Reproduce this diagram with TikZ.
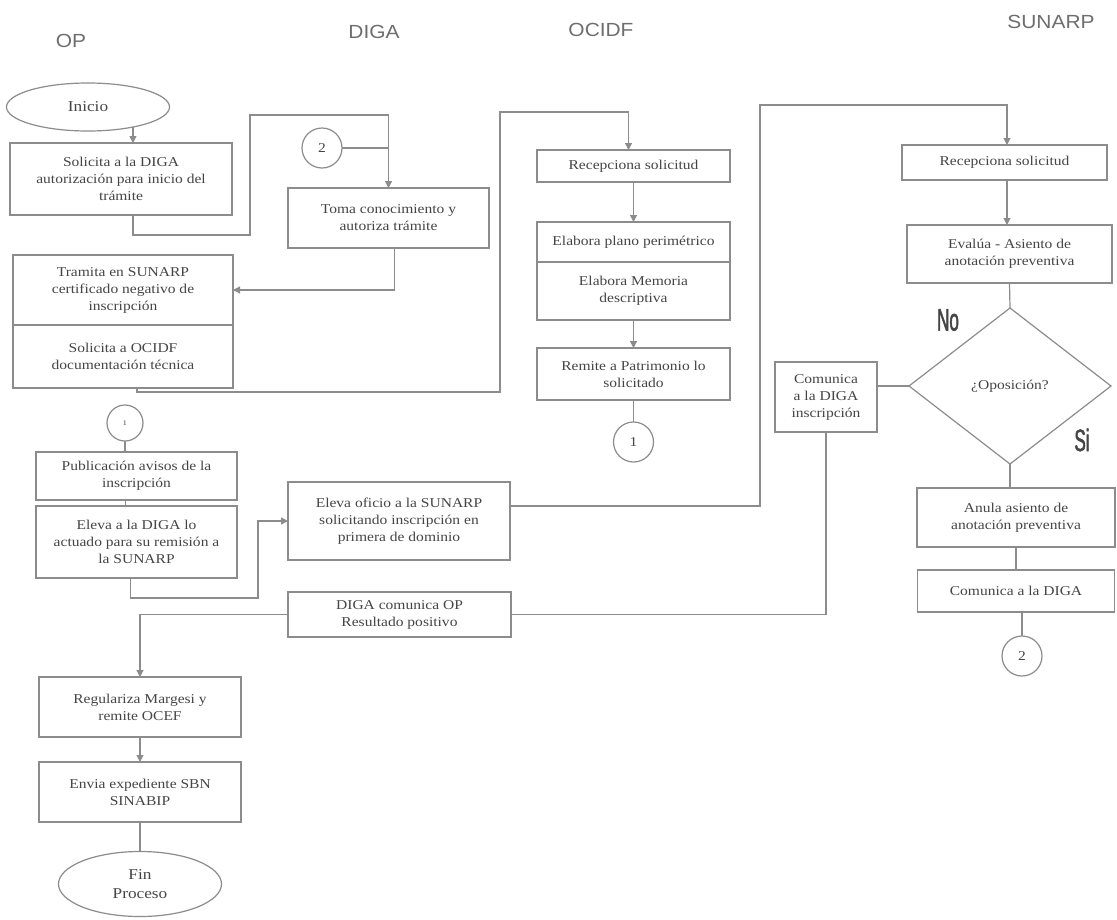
\documentclass[tikz,border=0pt]{standalone}
\usepackage{fontspec}
\setmainfont{Liberation Serif}
\newfontfamily\boxfont[FakeStretch=1.15]{Liberation Serif}
\newfontfamily\headfont[FakeStretch=1.1]{Liberation Sans}
\newfontfamily\yesnofont[FakeStretch=0.55,FakeBold=1.5]{Liberation Sans}
\usetikzlibrary{shapes.geometric,arrows.meta}
\definecolor{linegray}{HTML}{8C8C8C}
\definecolor{textgray}{HTML}{454545}
\definecolor{headgray}{HTML}{6E6E6E}
\begin{document}
\begin{tikzpicture}[x=1pt,y=-1pt,
    box/.style={draw=linegray, line width=1.2pt, fill=white, align=center, inner sep=2pt, outer sep=0pt, text=textgray, font=\boxfont\fontsize{13.5}{17}\selectfont},
    term/.style={box, ellipse, font=\boxfont\fontsize{15}{19}\selectfont},
    conn/.style={box, circle, minimum size=40, inner sep=0pt},
    flow/.style={draw=linegray, line width=1.2pt, -{Triangle[length=7pt,width=7pt]}},
    link/.style={draw=linegray, line width=1.2pt},
    lane/.style={text=headgray, font=\headfont\fontsize{19}{22}\selectfont},
    answer/.style={text=textgray, font=\yesnofont\fontsize{31}{31}\selectfont}]
    \fill[white] (0,0) rectangle (1117,919);
    \useasboundingbox (0,0) rectangle (1117,919);
    \node[lane] (hop) at (71,41) {OP};
    \node[lane] (hdiga) at (374,32) {DIGA};
    \node[lane] (hocidf) at (601,30) {OCIDF};
    \node[lane] (hsunarp) at (1051,22) {SUNARP};
    % OP
    \node[term, minimum width=163, minimum height=48] (inicio) at (88,107) {Inicio};
    \node[box, minimum width=222, minimum height=72] (s1) at (121,179) {Solicita a la DIGA\\autorización para inicio del\\trámite};
    \node[box, minimum width=220, minimum height=70] (tramita) at (123,290) {Tramita en SUNARP\\certificado negativo de\\inscripción};
    \node[box, minimum width=220, minimum height=63] (solocidf) at (123,356.5) {Solicita a OCIDF\\documentación técnica};
    \node[conn, minimum size=36] (c1a) at (125,423) {\scriptsize 1};
    \node[box, minimum width=201, minimum height=48] (publica) at (136.5,476) {Publicación avisos de la\\inscripción};
    \node[box, minimum width=201, minimum height=72] (elevadiga) at (136.5,542) {Eleva a la DIGA lo\\actuado para su remisión a\\la SUNARP};
    \node[box, minimum width=202, minimum height=60] (regulariza) at (140,707) {Regulariza Margesi y\\remite OCEF};
    \node[box, minimum width=202, minimum height=60] (envia) at (140,792) {Envia expediente SBN\\SINABIP};
    \node[term, minimum width=163, minimum height=65] (fin) at (140,884) {Fin\\Proceso};
    % DIGA
    \node[conn] (c2a) at (322,148) {2};
    \node[box, minimum width=201, minimum height=60] (toma) at (388.5,218) {Toma conocimiento y\\autoriza trámite};
    \node[box, minimum width=222, minimum height=78] (elevaof) at (399,521) {Eleva oficio a la SUNARP\\solicitando inscripción en\\primera de dominio};
    \node[box, minimum width=223, minimum height=45] (digacom) at (399.5,614.5) {DIGA comunica OP\\Resultado positivo};
    % OCIDF
    \node[box, minimum width=193, minimum height=32] (recocidf) at (633.5,166) {Recepciona solicitud};
    \node[box, minimum width=193, minimum height=40] (plano) at (633.5,242) {Elabora plano perimétrico};
    \node[box, minimum width=193, minimum height=58] (memoria) at (633.5,291) {Elabora Memoria\\descriptiva};
    \node[box, minimum width=193, minimum height=52] (remite) at (633.5,374) {Remite a Patrimonio lo\\solicitado};
    \node[conn] (c1b) at (633.5,442) {1};
    % SUNARP
    \node[box, minimum width=205, minimum height=35] (recsun) at (1004.5,162.5) {Recepciona solicitud};
    \node[box, minimum width=205, minimum height=58] (evalua) at (1009.5,254) {Evalúa - Asiento de\\anotación preventiva};
    \node[box, diamond, minimum width=202, minimum height=156, inner sep=0pt] (decision) at (1010,386) {¿Oposición?};
    \node[box, minimum width=102, minimum height=70] (cominsc) at (826,397) {Comunica\\a la DIGA\\inscripción};
    \node[box, minimum width=198, minimum height=59] (anula) at (1016,517.5) {Anula asiento de\\anotación preventiva};
    \node[box, minimum width=197, minimum height=42] (comdiga) at (1016,591) {Comunica a la DIGA};
    \node[conn] (c2b) at (1022,656) {2};
    \node[answer] (no) at (948,320) {No};
    \node[answer] (si) at (1082,440) {Si};
    % flechas
    \draw[flow] (inicio.-24) -- (inicio.-24 |- s1.north);
    \draw[flow] ([xshift=12]s1.south) -- ++(0,20) -| (250,115) -| (toma.north);
    \draw[link] (c2a.east) -- (c2a.east -| toma.north);
    \draw[flow] ([xshift=6]toma.south) |- (tramita.east);
    \draw[flow] ([xshift=14]solocidf.south) -- ++(0,4) -| (500,112) -| ([xshift=-5]recocidf.north);
    \draw[flow] (recocidf.south) -- (plano.north);
    \draw[flow] (memoria.south) -- (remite.north);
    \draw[link] (remite.south) -- (c1b.north);
    \draw[link] (c1a.south) -- (c1a.south |- publica.north);
    \draw[link] ([xshift=-11]publica.south) -- ([xshift=-11]elevadiga.north);
    \draw[flow] ([xshift=-6]elevadiga.south) -- ++(0,20) -| ([xshift=-30]elevaof.west) -- (elevaof.west);
    \draw[flow] ([yshift=15]elevaof.east) -- ++(250,0) |- (1007,105) -- (recsun.north -| 1007,0);
    \draw[flow] ([xshift=2.5]recsun.south) -- ([xshift=2.5]recsun.south |- evalua.north);
    \draw[link] (evalua.south) -- (decision.north);
    \draw[link] (decision.west) -- (decision.west -| cominsc.east);
    \draw[link] (decision.south) -- (decision.south |- anula.north);
    \draw[link] (anula.south) -- (anula.south |- comdiga.north);
    \draw[link] (c2b.north |- comdiga.south) -- (c2b.north);
    \draw[link] (cominsc.south) |- (digacom.east);
    \draw[flow] (digacom.west) -| (regulariza.north);
    \draw[flow] (regulariza.south) -- (envia.north);
    \draw[link] (envia.south) -- (fin.north);
\end{tikzpicture}
\end{document}
